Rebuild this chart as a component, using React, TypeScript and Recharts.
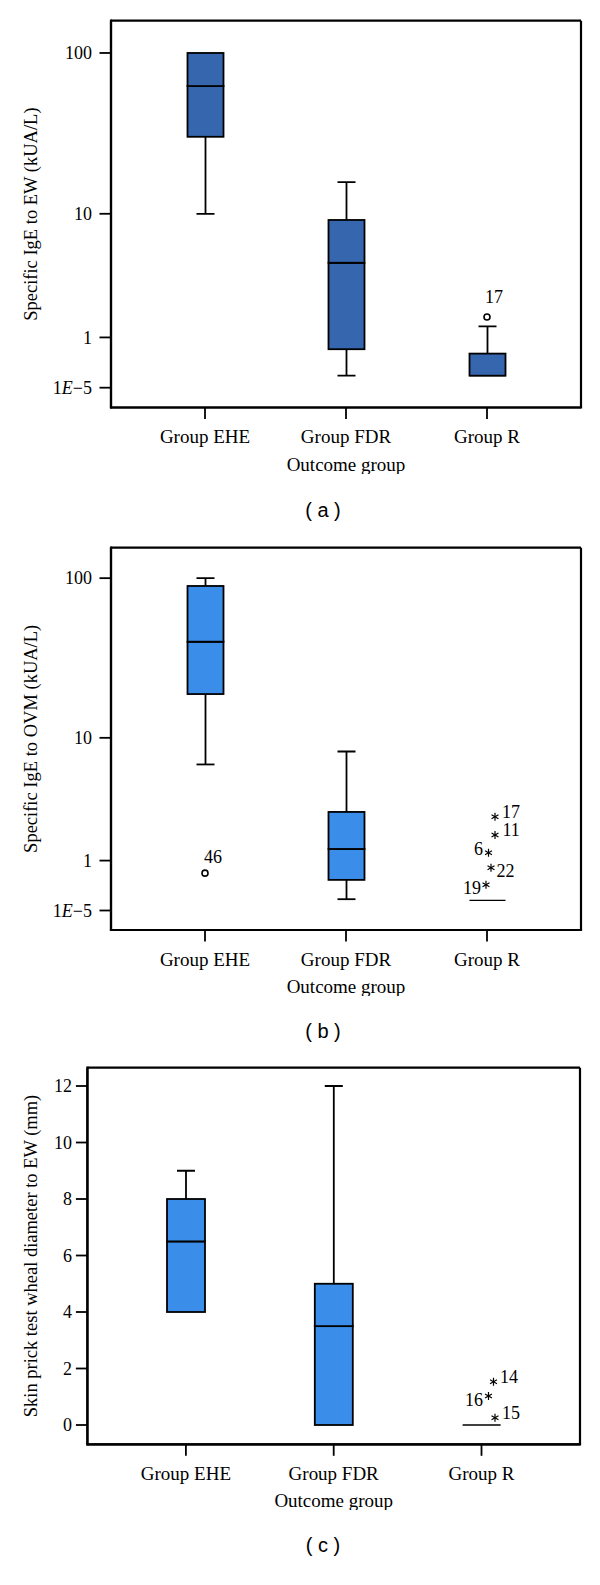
import React from 'react';
import { ComposedChart, Bar, Scatter, XAxis, YAxis, CartesianGrid } from 'recharts';

const SERIF = '"Liberation Serif", "Times New Roman", serif';
const SANS = '"Liberation Sans", Arial, sans-serif';

const groups = ['Group EHE', 'Group FDR', 'Group R'];

// (a) specific IgE to egg white, kUA/L
const ewMin = [10, 0.18, 0.18];
const ewQ1 = [30.8, 0.7, 0.18];
const ewMedian = [63, 4.6, 0.18];
const ewQ3 = [100, 9.1, 0.6];
const ewMax = [100, 16, 1.33];
const ewOutGroup = ['Group R'];
const ewOutValue = [1.65];
const ewOutCase = ['17'];
const ewOutExtreme = [false];

// (b) specific IgE to ovomucoid, kUA/L
const ovmMin = [6.6, 0.17, 0.15];
const ovmQ1 = [19.2, 0.53, 0.15];
const ovmMedian = [40.8, 1.35, 0.15];
const ovmQ3 = [89.6, 2.93, 0.15];
const ovmMax = [100, 8.1, 0.15];
const ovmOutGroup = ['Group EHE', 'Group R', 'Group R', 'Group R', 'Group R', 'Group R'];
const ovmOutValue = [0.68, 2.68, 1.85, 1.23, 0.81, 0.43];
const ovmOutCase = ['46', '17', '11', '6', '22', '19'];
const ovmOutExtreme = [false, true, true, true, true, true];

// (c) skin prick test wheal diameter to EW, mm
const sptMin = [4, 0, 0];
const sptQ1 = [4, 0, 0];
const sptMedian = [6.5, 3.5, 0];
const sptQ3 = [8, 5, 0];
const sptMax = [9, 12, 0];
const sptOutGroup = ['Group R', 'Group R', 'Group R'];
const sptOutValue = [1.53, 1.03, 0.26];
const sptOutCase = ['14', '16', '15'];
const sptOutExtreme = [true, true, true];

const logTickValues = [0.00001, 1, 10, 100];
const logTickLabels = ['1E−5', '1', '10', '100'];
const sptTickValues = [0, 2, 4, 6, 8, 10, 12];
const sptTickLabels = ['0', '2', '4', '6', '8', '10', '12'];

// the axis in (a) and (b) is log10(x + 1)
const logScale = (v: number) => Math.log10(v + 1);
const linear = (v: number) => v;

function boxRows(mins: number[], q1: number[], med: number[], q3: number[], maxs: number[], f: (v: number) => number) {
  return groups.map((name, i) => ({
    name,
    base: f(mins[i]),
    whiskerLow: f(q1[i]) - f(mins[i]),
    boxLow: f(med[i]) - f(q1[i]),
    boxHigh: f(q3[i]) - f(med[i]),
    whiskerHigh: f(maxs[i]) - f(q3[i]),
  }));
}

function outlierRows(panel: string, g: string[], vals: number[], cases: string[], extreme: boolean[], f: (v: number) => number) {
  return g.map((name, i) => ({ name, y: f(vals[i]), label: cases[i], extreme: extreme[i], key: panel + cases[i] }));
}

// marker / label nudges, as placed in the original figure
const markOffsets: Record<string, { mdx: number; ldx: number; ldy: number; anchor: string }> = {
  a17: { mdx: 0, ldx: 7, ldy: -20, anchor: 'middle' },
  b46: { mdx: 0, ldx: 8, ldy: -16, anchor: 'middle' },
  b17: { mdx: 8, ldx: 7, ldy: -4.5, anchor: 'start' },
  b11: { mdx: 8, ldx: 7.5, ldy: -5, anchor: 'start' },
  b6: { mdx: 1.5, ldx: -5.5, ldy: -4.5, anchor: 'end' },
  b22: { mdx: 4, ldx: 5.5, ldy: 3.3, anchor: 'start' },
  b19: { mdx: -1, ldx: -5, ldy: 3.3, anchor: 'end' },
  c14: { mdx: 12, ldx: 6.5, ldy: -5, anchor: 'start' },
  c16: { mdx: 7, ldx: -5.5, ldy: 4, anchor: 'end' },
  c15: { mdx: 13.5, ldx: 7, ldy: -5.4, anchor: 'start' },
};

const LINE = 1.8;
const CAP = 18;

function Whisker({ x, y, width, height, end }: any) {
  if (!height || height <= 0) return <g />;
  const cx = x + width / 2;
  const capY = end === 'low' ? y + height : y;
  return (
    <g stroke="#000" strokeWidth={LINE}>
      <line x1={cx} x2={cx} y1={y} y2={y + height} />
      <line x1={cx - CAP / 2} x2={cx + CAP / 2} y1={capY} y2={capY} />
    </g>
  );
}

function BoxPart({ x, y, width, height, fill, median }: any) {
  return (
    <g>
      {height > 0 && <rect x={x} y={y} width={width} height={height} fill={fill} stroke="#000" strokeWidth={LINE} />}
      {median && (
        <line x1={x} x2={x + width} y1={y} y2={y} stroke="#000" strokeWidth={height > 0 ? LINE : 1.3} />
      )}
    </g>
  );
}

function Asterisk({ x, y }: { x: number; y: number }) {
  const r = 4;
  const angles = [90, 30, 150];
  return (
    <g stroke="#000" strokeWidth={1.2}>
      {angles.map((a) => {
        const dx = Math.cos((a * Math.PI) / 180) * r;
        const dy = Math.sin((a * Math.PI) / 180) * r;
        return <line key={a} x1={x - dx} y1={y - dy} x2={x + dx} y2={y + dy} />;
      })}
    </g>
  );
}

function OutlierMark({ cx, cy, payload }: any) {
  if (cx == null || cy == null) return <g />;
  const o = markOffsets[payload.key] || { mdx: 0, ldx: 6, ldy: -16, anchor: 'middle' };
  const mx = cx + o.mdx;
  return (
    <g>
      {payload.extreme ? (
        <Asterisk x={mx} y={cy} />
      ) : (
        <circle cx={mx} cy={cy} r={3} fill="#fff" stroke="#000" strokeWidth={1.6} />
      )}
      <text x={mx + o.ldx} y={cy + o.ldy} dy="0.35em" textAnchor={o.anchor} fontSize={18} fontFamily={SERIF} fill="#000">
        {payload.label}
      </text>
    </g>
  );
}

function YTick({ x, y, payload, values, labels }: any) {
  const i = values.findIndex((v: number) => Math.abs(v - payload.value) < 1e-9);
  const label = i >= 0 ? labels[i] : String(payload.value);
  const parts = label.split('E');
  return (
    <text x={x} y={y} dy="0.35em" textAnchor="end" fontSize={18} fontFamily={SERIF} fill="#000">
      {parts.length === 2 ? (
        <>
          <tspan>{parts[0]}</tspan>
          <tspan fontStyle="italic">E</tspan>
          <tspan>{parts[1]}</tspan>
        </>
      ) : (
        label
      )}
    </text>
  );
}

function YTitle({ viewBox, text }: any) {
  const vb = viewBox || { x: 0, y: 0, width: 0, height: 0 };
  const cx = 31;
  const cy = vb.y + vb.height / 2;
  return (
    <text
      x={cx}
      y={cy}
      dy="0.35em"
      transform={`rotate(-90, ${cx}, ${cy})`}
      textAnchor="middle"
      fontSize={18.5}
      fontFamily={SERIF}
      fill="#000"
    >
      {text}
    </text>
  );
}

const frameLine = { stroke: '#000', strokeWidth: 2.2, strokeLinecap: 'square' as const };
const tickLine = { stroke: '#000', strokeWidth: LINE };

// the plot frame: grid lines only on the four edges of the plot area
const frameX = ({ offset }: any) => [offset.left, offset.left + offset.width];
const frameY = ({ offset }: any) => [offset.top, offset.top + offset.height];

function Panel(props: any) {
  const { top, height, margin, yWidth, yDomain, rows, outliers, tickValues, tickLabels, tickMargin, fill, barSize, padX, title, caption, captionTop } = props;
  return (
    <>
      <div style={{ position: 'absolute', left: 0, top, width: 600, height }}>
        <ComposedChart width={600} height={height} data={rows} margin={margin}>
          <CartesianGrid
            stroke="#000"
            strokeWidth={2.2}
            fill="none"
            verticalCoordinatesGenerator={frameX}
            horizontalCoordinatesGenerator={frameY}
          />
          <XAxis
            dataKey="name"
            type="category"
            allowDuplicatedCategory={false}
            interval={0}
            height={66}
            padding={{ left: padX, right: padX }}
            axisLine={frameLine}
            tickLine={tickLine}
            tickSize={11.5}
            tickMargin={11}
            tick={{ fill: '#000', fontSize: 19, fontFamily: SERIF }}
            label={{ value: 'Outcome group', position: 'insideBottom', offset: 3, fill: '#000', fontSize: 19, fontFamily: SERIF }}
          />
          <YAxis
            type="number"
            domain={yDomain}
            allowDataOverflow
            ticks={tickValues}
            interval={0}
            width={yWidth}
            axisLine={frameLine}
            tickLine={tickLine}
            tickSize={11.5}
            tickMargin={tickMargin}
            tick={<YTick values={tickValues} labels={tickLabels} />}
            label={<YTitle text={title} />}
          />
          <Bar dataKey="base" stackId="box" barSize={barSize} shape={() => <g />} isAnimationActive={false} />
          <Bar dataKey="whiskerLow" stackId="box" barSize={barSize} shape={(p: any) => <Whisker {...p} end="low" />} isAnimationActive={false} />
          <Bar dataKey="boxLow" stackId="box" barSize={barSize} fill={fill} shape={(p: any) => <BoxPart {...p} fill={fill} median />} isAnimationActive={false} />
          <Bar dataKey="boxHigh" stackId="box" barSize={barSize} fill={fill} shape={(p: any) => <BoxPart {...p} fill={fill} />} isAnimationActive={false} />
          <Bar dataKey="whiskerHigh" stackId="box" barSize={barSize} shape={(p: any) => <Whisker {...p} end="high" />} isAnimationActive={false} />
          <Scatter data={outliers} dataKey="y" shape={(p: any) => <OutlierMark {...p} />} isAnimationActive={false} />
        </ComposedChart>
      </div>
      <div
        style={{
          position: 'absolute',
          left: 323,
          top: captionTop,
          transform: 'translateX(-50%)',
          fontFamily: SANS,
          fontSize: 20,
          lineHeight: '20px',
          whiteSpace: 'pre',
          color: '#000',
        }}
      >
        {caption}
      </div>
    </>
  );
}

export default function App() {
  const rowsA = boxRows(ewMin, ewQ1, ewMedian, ewQ3, ewMax, logScale);
  const rowsB = boxRows(ovmMin, ovmQ1, ovmMedian, ovmQ3, ovmMax, logScale);
  const rowsC = boxRows(sptMin, sptQ1, sptMedian, sptQ3, sptMax, linear);
  const outA = outlierRows('a', ewOutGroup, ewOutValue, ewOutCase, ewOutExtreme, logScale);
  const outB = outlierRows('b', ovmOutGroup, ovmOutValue, ovmOutCase, ovmOutExtreme, logScale);
  const outC = outlierRows('c', sptOutGroup, sptOutValue, sptOutCase, sptOutExtreme, linear);

  return (
    <div style={{ position: 'absolute', left: 0, top: 0, width: 600, height: 1585, background: '#fff' }}>
      <Panel
        top={0}
        height={473.5}
        margin={{ top: 20.7, right: 19, bottom: 0, left: 0 }}
        yWidth={111}
        yDomain={[-0.1186, 2.1976]}
        rows={rowsA}
        outliers={outA}
        tickValues={logTickValues.map(logScale)}
        tickLabels={logTickLabels}
        tickMargin={7.5}
        fill="#3566ae"
        barSize={36}
        padX={23.5}
        title="Specific IgE to EW (kUA/L)"
        caption="( a )"
        captionTop={500}
      />
      <Panel
        top={520}
        height={476}
        margin={{ top: 27.7, right: 19, bottom: 0, left: 0 }}
        yWidth={111}
        yDomain={[-0.1176, 2.188]}
        rows={rowsB}
        outliers={outB}
        tickValues={logTickValues.map(logScale)}
        tickLabels={logTickLabels}
        tickMargin={7.5}
        fill="#3a8de8"
        barSize={36}
        padX={23.5}
        title="Specific IgE to OVM (kUA/L)"
        caption="( b )"
        captionTop={1021}
      />
      <Panel
        top={1040}
        height={470.3}
        margin={{ top: 27.7, right: 20, bottom: 0, left: 0 }}
        yWidth={87.4}
        yDomain={[-0.683, 12.648]}
        rows={rowsC}
        outliers={outC}
        tickValues={sptTickValues}
        tickLabels={sptTickLabels}
        tickMargin={4}
        fill="#3a8de8"
        barSize={38}
        padX={24.6}
        title="Skin prick test wheal diameter to EW (mm)"
        caption="( c )"
        captionTop={1535}
      />
    </div>
  );
}
